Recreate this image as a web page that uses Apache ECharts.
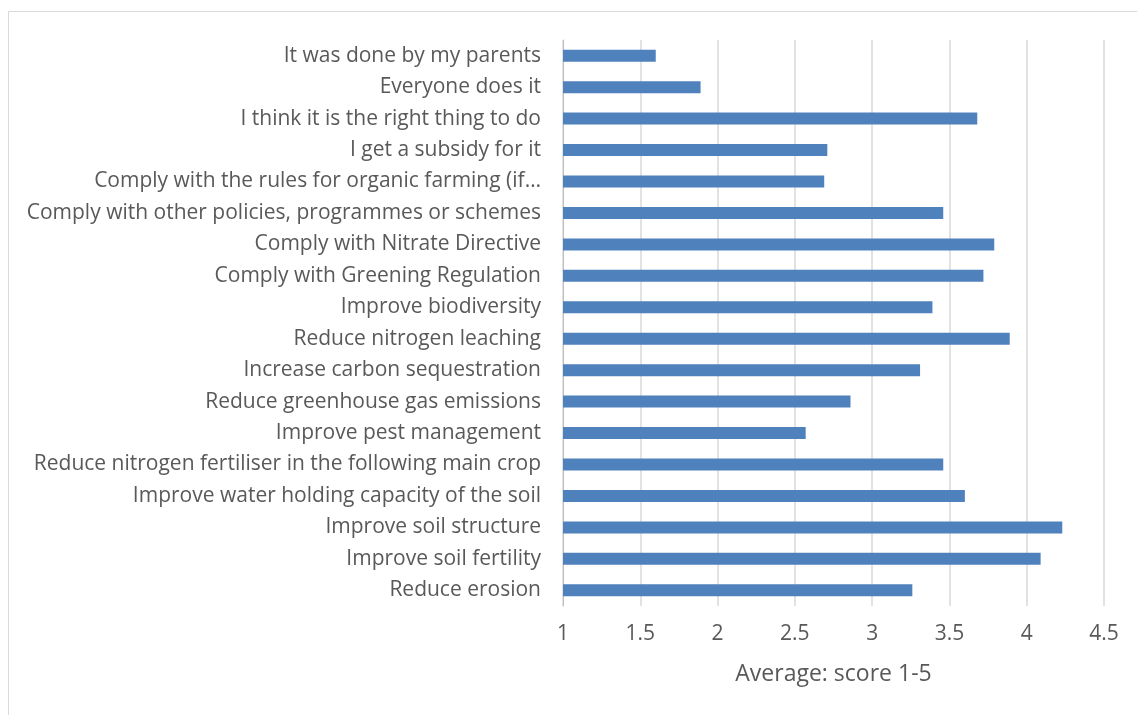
<!DOCTYPE html>
<html>
<head>
<meta charset="utf-8">
<script src="https://cdn.jsdelivr.net/npm/echarts@6/dist/echarts.min.js"></script>
<style>
    html, body { margin: 0; padding: 0; background: #fff; }
    #chart { width: 1137px; height: 715px; }
</style>
</head>
<body>
<div id="chart"></div>
<script>
    // categories listed bottom to top (as ECharts draws the category axis)
    const categories = [
        'Reduce erosion',
        'Improve soil fertility',
        'Improve soil structure',
        'Improve water holding capacity of the soil',
        'Reduce nitrogen fertiliser in the following main crop',
        'Improve pest management',
        'Reduce greenhouse gas emissions',
        'Increase carbon sequestration',
        'Reduce nitrogen leaching',
        'Improve biodiversity',
        'Comply with Greening Regulation',
        'Comply with Nitrate Directive',
        'Comply with other policies, programmes or schemes',
        'Comply with the rules for organic farming (if…',
        'I get a subsidy for it',
        'I think it is the right thing to do',
        'Everyone does it',
        'It was done by my parents'
    ];
    const scores = [3.26, 4.09, 4.23, 3.60, 3.46, 2.57, 2.86, 3.31, 3.89, 3.39, 3.72, 3.79, 3.46, 2.69, 2.71, 3.68, 1.89, 1.60];
    const xTicks = [1, 1.5, 2, 2.5, 3, 3.5, 4, 4.5];

    const font = 'Open Sans';
    const myChart = echarts.init(document.getElementById('chart'));
    let option = {
        animation: false,
        graphic: [{
            type: 'rect',
            shape: { x: 8.5, y: 11.5, width: 1140, height: 720 },
            style: { fill: 'none', stroke: '#d9d9d9', lineWidth: 1 }
        }],
        grid: { left: 563, right: 33, top: 40, bottom: 109 },
        xAxis: {
            type: 'value',
            min: xTicks[0],
            max: xTicks[xTicks.length - 1],
            interval: 0.5,
            name: 'Average: score 1-5',
            nameLocation: 'middle',
            nameGap: 57,
            nameTextStyle: { fontFamily: font, fontSize: 23, color: '#595959' },
            axisLine: { show: false },
            axisTick: { show: false },
            axisLabel: { fontFamily: font, fontSize: 21, color: '#595959', margin: 18 },
            splitLine: { lineStyle: { color: '#d9d9d9', width: 1.5 } }
        },
        yAxis: {
            type: 'category',
            data: categories,
            axisLine: { lineStyle: { color: '#bfbfbf' } },
            axisTick: { show: false },
            axisLabel: { fontFamily: font, fontSize: 21, color: '#595959', margin: 22, padding: [3, 0, 0, 0] }
        },
        series: [{
            type: 'bar',
            data: scores,
            barWidth: 12,
            itemStyle: { color: '#4f81bd' }
        }]
    };
    myChart.setOption(option);
</script>
</body>
</html>
